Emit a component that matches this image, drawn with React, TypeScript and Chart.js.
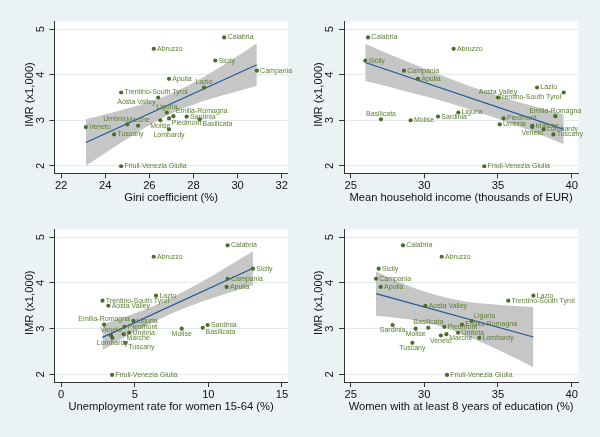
import React, { useEffect, useRef } from 'react';
import { Chart, registerables } from 'chart.js';
Chart.register(...registerables);

// ---------- data ----------
const regions = ['Calabria', 'Abruzzo', 'Sicily', 'Campania', 'Apulia', 'Lazio', 'Trentino-South Tyrol', 'Aosta Valley', 'Liguria', 'Emilia-Romagna', 'Sardinia', 'Basilicata', 'Piedmont', 'Molise', 'Umbria', 'Marche', 'Veneto', 'Tuscany', 'Lombardy', 'Friuli-Venezia Giulia'];
const imr = [4.82, 4.57, 4.31, 4.09, 3.91, 3.72, 3.61, 3.50, 3.17, 3.09, 3.08, 3.02, 3.04, 3.00, 2.91, 2.88, 2.85, 2.69, 2.80, 1.99];
const gini = [29.39, 26.2, 28.99, 30.87, 26.89, 28.48, 24.72, 26.40, 26.79, 27.09, 27.69, 28.28, 26.89, 26.5, 25.0, 25.49, 23.12, 24.4, 26.89, 24.72];
const income = [26.18, 31.99, 25.99, 28.62, 29.57, 37.65, 39.46, 35.0, 32.31, 38.89, 30.93, 27.06, 35.38, 29.07, 35.12, 37.33, 37.33, 38.76, 38.1, 34.07];
const unemployment = [11.31, 6.29, 13.03, 11.31, 11.24, 6.45, 2.81, 3.21, 4.91, 2.92, 9.95, 9.62, 4.30, 8.19, 4.62, 4.25, 3.39, 4.37, 3.48, 3.46];
const education = [28.55, 31.18, 26.90, 26.72, 27.04, 37.40, 35.70, 30.07, 33.21, 32.56, 27.85, 30.27, 31.36, 29.41, 32.29, 31.5, 31.12, 29.19, 33.73, 31.54];

const yTicks = [2, 3, 4, 5];
const giniTicks = [22, 24, 26, 28, 30, 32];
const incomeTicks = [25, 30, 35, 40];
const unempTicks = [0, 5, 10, 15];
const educTicks = [25, 30, 35, 40];

// fitted lines
const giniFitX = [23.12, 30.87];
const giniFitY = [2.51, 4.22];
const incomeFitX = [25.99, 39.46];
const incomeFitY = [4.27, 2.80];
const unempFitX = [2.81, 13.03];
const unempFitY = [2.81, 4.32];
const educFitX = [26.72, 37.40];
const educFitY = [3.765, 2.817];

// confidence bands
const giniBandX = [23.12, 24.5, 26, 27.2, 28.5, 30, 30.87];
const giniBandUpper = [3.02, 3.19, 3.40, 3.63, 3.96, 4.41, 4.69];
const giniBandLower = [2.00, 2.44, 2.89, 3.19, 3.43, 3.64, 3.75];
const incomeBandX = [25.99, 28, 30.5, 33, 35.5, 37.5, 39.46];
const incomeBandUpper = [4.68, 4.40, 4.07, 3.76, 3.49, 3.30, 3.125];
const incomeBandLower = [3.86, 3.70, 3.49, 3.25, 2.98, 2.73, 2.475];
const unempBandX = [2.81, 4.5, 6.5, 8.5, 10.5, 13.03];
const unempBandUpper = [3.09, 3.275, 3.53, 3.84, 4.20, 4.69];
const unempBandLower = [2.53, 2.845, 3.18, 3.46, 3.69, 3.95];
const educBandX = [26.72, 28.5, 30.5, 32.5, 35, 37.4];
const educBandUpper = [4.25, 3.99, 3.76, 3.61, 3.52, 3.47];
const educBandLower = [3.28, 3.22, 3.10, 2.89, 2.54, 2.16];

// label clock positions
const giniLabelPos = [3, 3, 3, 3, 3, 12, 3, 8, 12, 2, 3, 4, 4, 6, 10, 12, 3, 3, 6, 3];
const incomeLabelPos = [3, 3, 3, 3, 3, 3, 8, 12, 3, 12, 3, 12, 3, 3, 3, 3, 6, 3, 3, 3];
const unempLabelPos = [3, 3, 3, 3, 3, 3, 3, 3, 3, 12, 3, 4, 3, 6, 3, 4, 12, 4, 6, 3];
const educLabelPos = [3, 3, 3, 3, 3, 3, 3, 3, 2, 3, 6, 12, 3, 6, 3, 4, 6, 6, 3, 3];

// ---------- styles ----------
const BG = 'rgb(234,242,243)';
const POINT = '#4b6e26';
const LABEL = '#5a7f2f';
const LINE = '#1d5a9a';
const BAND = 'rgb(198,198,198)';
const AXIS = '#333333';
const GRID = '#e2eaed';
const FONT = '"Liberation Sans", Arial, sans-serif';

type Panel = {
  xs: number[]; xTicks: number[]; xMin: number; xMax: number; title: string; labelPos: number[];
  fitX: number[]; fitY: number[]; bandX: number[]; bandU: number[]; bandL: number[];
  left: number; top: number; h: number; L: number; T: number; R: number; B: number;
};

const panels: Panel[] = [
  { xs: gini, xTicks: giniTicks, xMin: 21.70, xMax: 32.27, title: 'Gini coefficient (%)', labelPos: giniLabelPos,
    fitX: giniFitX, fitY: giniFitY, bandX: giniBandX, bandU: giniBandUpper, bandL: giniBandLower,
    left: 0, top: 0, h: 218, L: 54.5, T: 21.7, R: 287.7, B: 173.3 },
  { xs: income, xTicks: incomeTicks, xMin: 24.55, xMax: 40.45, title: 'Mean household income (thousands of EUR)', labelPos: incomeLabelPos,
    fitX: incomeFitX, fitY: incomeFitY, bandX: incomeBandX, bandU: incomeBandUpper, bandL: incomeBandLower,
    left: 300, top: 0, h: 218, L: 44, T: 21.7, R: 278.3, B: 173.3 },
  { xs: unemployment, xTicks: unempTicks, xMin: -0.45, xMax: 15.39, title: 'Unemployment rate for women 15-64 (%)', labelPos: unempLabelPos,
    fitX: unempFitX, fitY: unempFitY, bandX: unempBandX, bandU: unempBandUpper, bandL: unempBandLower,
    left: 0, top: 218, h: 219, L: 54.5, T: 11.5, R: 287.7, B: 164 },
  { xs: education, xTicks: educTicks, xMin: 24.55, xMax: 40.45, title: 'Women with at least 8 years of education (%)', labelPos: educLabelPos,
    fitX: educFitX, fitY: educFitY, bandX: educBandX, bandU: educBandUpper, bandL: educBandLower,
    left: 300, top: 218, h: 219, L: 44, T: 11.5, R: 278.3, B: 164 },
];

const Y_MIN = 1.835;
const Y_MAX = 5.165;

function labelOffset(pos: number): { dx: number; dy: number; align: CanvasTextAlign } {
  switch (pos) {
    case 12: return { dx: 0, dy: -5.3, align: 'center' };
    case 6: return { dx: 0, dy: 5.5, align: 'center' };
    case 9: return { dx: -3.3, dy: 0, align: 'right' };
    case 1: case 2: return { dx: 2.5, dy: -4.8, align: 'left' };
    case 4: case 5: return { dx: 2.8, dy: 4.4, align: 'left' };
    case 7: case 8: return { dx: -2.5, dy: 4.4, align: 'right' };
    case 10: case 11: return { dx: -1.5, dy: -5.2, align: 'right' };
    default: return { dx: 3.3, dy: 0, align: 'left' };
  }
}

function makeConfig(p: Panel): any {
  const pts = p.xs.map((x, i) => ({ x, y: imr[i] }));
  const fit = p.fitX.map((x, i) => ({ x, y: p.fitY[i] }));
  const up = p.bandX.map((x, i) => ({ x, y: p.bandU[i] }));
  const lo = p.bandX.map((x, i) => ({ x, y: p.bandL[i] }));

  const panelPlugin = {
    id: 'panelTexts',
    beforeDraw(chart: any) {
      const { ctx, chartArea: a } = chart;
      ctx.save();
      ctx.fillStyle = '#ffffff';
      ctx.fillRect(a.left, a.top, a.right - a.left, a.bottom - a.top);
      ctx.restore();
    },
    afterDatasetsDraw(chart: any) {
      const { ctx } = chart;
      const meta = chart.getDatasetMeta(0);
      ctx.save();
      ctx.font = `7px ${FONT}`;
      ctx.fillStyle = LABEL;
      ctx.textBaseline = 'middle';
      meta.data.forEach((el: any, i: number) => {
        const o = labelOffset(p.labelPos[i]);
        ctx.textAlign = o.align;
        ctx.fillText(regions[i], el.x + o.dx, el.y + o.dy);
      });
      ctx.restore();
    },
    afterDraw(chart: any) {
      const { ctx, chartArea: a, scales } = chart;
      ctx.save();
      ctx.fillStyle = '#111111';
      ctx.font = `11.2px ${FONT}`;
      ctx.textBaseline = 'alphabetic';
      ctx.textAlign = 'center';
      p.xTicks.forEach((v) => {
        ctx.fillText(String(v), scales.x.getPixelForValue(v), a.bottom + 16);
      });
      ctx.fillText(p.title, (a.left + a.right) / 2, a.bottom + 28);
      yTicks.forEach((v) => {
        const y = scales.y.getPixelForValue(v);
        ctx.save();
        ctx.translate(a.left - 11, y);
        ctx.rotate(-Math.PI / 2);
        ctx.fillText(String(v), 0, 0);
        ctx.restore();
      });
      ctx.save();
      ctx.translate(a.left - 22, (a.top + a.bottom) / 2 - 3);
      ctx.rotate(-Math.PI / 2);
      ctx.fillText('IMR (x1,000)', 0, 0);
      ctx.restore();
      ctx.restore();
    },
  };

  return {
    type: 'scatter',
    data: {
      datasets: [
        { type: 'scatter', data: pts, backgroundColor: POINT, borderWidth: 0, pointRadius: 2.1, pointHoverRadius: 2.1 },
        { type: 'line', data: fit, borderColor: LINE, borderWidth: 1.2, pointRadius: 0, fill: false, showLine: true },
        { type: 'line', data: up, borderColor: 'rgba(0,0,0,0)', borderWidth: 1, pointRadius: 0, fill: '+1', backgroundColor: BAND, showLine: true, cubicInterpolationMode: 'monotone' },
        { type: 'line', data: lo, borderColor: 'rgba(0,0,0,0)', borderWidth: 1, pointRadius: 0, fill: false, showLine: true, cubicInterpolationMode: 'monotone' },
      ],
    },
    options: {
      animation: false,
      responsive: false,
      devicePixelRatio: 1,
      events: [],
      layout: { padding: { left: 0, top: p.T, right: 300 - p.R, bottom: 0 } },
      plugins: { legend: { display: false }, tooltip: { enabled: false } },
      scales: {
        x: {
          type: 'linear', min: p.xMin, max: p.xMax,
          ticks: { display: false },
          grid: { drawOnChartArea: false, drawTicks: true, tickLength: 5, tickColor: AXIS, tickWidth: 1 },
          border: { display: true, color: AXIS, width: 1 },
          afterBuildTicks: (s: any) => { s.ticks = p.xTicks.map((v) => ({ value: v })); },
          afterFit: (s: any) => { s.height = p.h - p.B; },
        },
        y: {
          type: 'linear', min: Y_MIN, max: Y_MAX,
          ticks: { display: false },
          grid: { drawOnChartArea: true, color: GRID, lineWidth: 1, drawTicks: true, tickLength: 5, tickColor: AXIS, tickWidth: 1 },
          border: { display: true, color: AXIS, width: 1 },
          afterBuildTicks: (s: any) => { s.ticks = yTicks.map((v) => ({ value: v })); },
          afterFit: (s: any) => { s.width = p.L; },
        },
      },
    },
    plugins: [panelPlugin],
  };
}

export default function App() {
  const refs = useRef<(HTMLCanvasElement | null)[]>([]);
  useEffect(() => {
    const charts = panels.map((p, i) => new Chart(refs.current[i] as HTMLCanvasElement, makeConfig(p)));
    return () => charts.forEach((c) => c.destroy());
  }, []);
  return (
    <div style={{ position: 'fixed', left: 0, top: 0, width: 600, height: 437, background: BG, overflow: 'hidden' }}>
      {panels.map((p, i) => (
        <canvas
          key={i}
          ref={(el) => { refs.current[i] = el; }}
          width={300}
          height={p.h}
          style={{ position: 'absolute', left: p.left, top: p.top, width: 300, height: p.h }}
        />
      ))}
    </div>
  );
}
